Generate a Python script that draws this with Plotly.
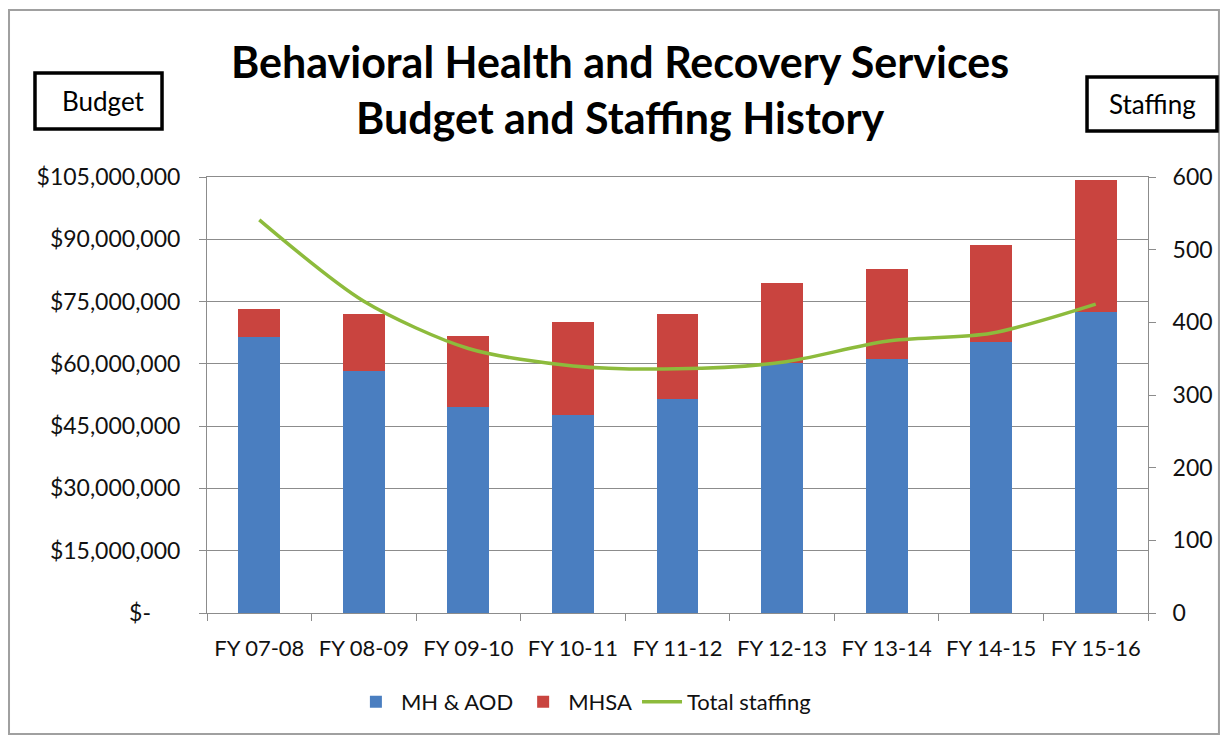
import plotly.graph_objects as go

categories = ["FY 07-08", "FY 08-09", "FY 09-10", "FY 10-11", "FY 11-12",
              "FY 12-13", "FY 13-14", "FY 14-15", "FY 15-16"]
mh_aod = [66.4e6, 58.3e6, 49.7e6, 47.8e6, 51.5e6, 60.2e6, 61.2e6, 65.2e6, 72.4e6]
totals = [73.2e6, 72.1e6, 66.6e6, 70.0e6, 71.9e6, 79.4e6, 82.8e6, 88.7e6, 104.2e6]
mhsa = [t - m for t, m in zip(totals, mh_aod)]
staffing = [541, 429, 364, 340, 336, 345, 374, 385, 425]

budget_ticks = [0, 15e6, 30e6, 45e6, 60e6, 75e6, 90e6, 105e6]
budget_labels = ["$-\u00a0\u00a0\u00a0\u00a0\u00a0", "$15,000,000", "$30,000,000", "$45,000,000",
                 "$60,000,000", "$75,000,000", "$90,000,000", "$105,000,000"]
staff_ticks = [0, 100, 200, 300, 400, 500, 600]

FONT = "Lato, 'Open Sans', sans-serif"
BLUE = "#4A7EC0"
RED = "#C9443F"
GREEN = "#8DBB3C"

fig = go.Figure()
fig.add_trace(go.Bar(x=categories, y=mh_aod, name="MH & AOD", marker_color=BLUE,
                     marker_line_width=0))
fig.add_trace(go.Bar(x=categories, y=mhsa, name="MHSA", marker_color=RED,
                     marker_line_width=0))
fig.add_trace(go.Scatter(x=categories, y=staffing, name="Total staffing", yaxis="y2",
                         mode="lines", line=dict(color=GREEN, width=3.5, shape="spline",
                                                 smoothing=0.8)))

fig.update_layout(
    width=1221, height=737,
    margin=dict(l=207, r=73, t=177, b=124),
    paper_bgcolor="white", plot_bgcolor="white",
    barmode="stack", bargap=0.6,
    font=dict(family=FONT, size=22, color="#111111"),
    showlegend=True,
    legend=dict(orientation="h", x=0.40, xanchor="center", y=-0.204, yanchor="middle",
                font=dict(size=22), itemwidth=40, traceorder="normal"),
    xaxis=dict(type="category", showline=True, linecolor="#8c8c8c", linewidth=1,
               mirror=True, ticks="outside", tickson="boundaries", ticklen=7,
               tickcolor="#8c8c8c", showgrid=False, tickfont=dict(size=22),
               ticklabelstandoff=16, automargin=False),
    yaxis=dict(range=[0, 105e6], tickvals=budget_ticks, ticktext=budget_labels,
               showline=True, linecolor="#8c8c8c", linewidth=1, ticks="outside",
               ticklen=7, tickcolor="#8c8c8c", showgrid=True, gridcolor="#8c8c8c",
               gridwidth=1, zeroline=False, tickfont=dict(size=23),
               ticklabelstandoff=14, automargin=False),
    yaxis2=dict(range=[0, 600], tickvals=staff_ticks, overlaying="y", side="right",
                showline=True, linecolor="#8c8c8c", linewidth=1, ticks="outside",
                ticklen=7, tickcolor="#8c8c8c", showgrid=False, zeroline=False,
                tickfont=dict(size=23), ticklabelstandoff=12, automargin=False),
    shapes=[
        dict(type="rect", xref="paper", yref="paper", x0=-0.2104, x1=1.0754,
             y0=-0.2775, y1=1.383, line=dict(color="#a0a0a0", width=2),
             fillcolor="rgba(0,0,0,0)", layer="below"),
        dict(type="rect", xref="paper", yref="paper", x0=-0.1828, x1=-0.0478,
             y0=1.1101, y1=1.2385, line=dict(color="black", width=3.5)),
        dict(type="rect", xref="paper", yref="paper", x0=0.9352, x1=1.0733,
             y0=1.1055, y1=1.2294, line=dict(color="black", width=3.5)),
    ],
    annotations=[
        dict(text="<b>Behavioral Health and Recovery Services</b>", xref="paper",
             yref="paper", x=0.439, y=1.2638, xanchor="center", yanchor="middle",
             showarrow=False, font=dict(size=43, color="black")),
        dict(text="<b>Budget and Staffing History</b>", xref="paper",
             yref="paper", x=0.439, y=1.1376, xanchor="center", yanchor="middle",
             showarrow=False, font=dict(size=43, color="black")),
        dict(text="Budget", xref="paper", yref="paper", x=-0.1105, y=1.1743,
             xanchor="center", yanchor="middle", showarrow=False,
             font=dict(size=26, color="black")),
        dict(text="Staffing", xref="paper", yref="paper", x=1.0043, y=1.1674,
             xanchor="center", yanchor="middle", showarrow=False,
             font=dict(size=26, color="black")),
    ],
)

fig.write_html("out.html", config={"displayModeBar": False},
               post_script="document.body.style.margin='0';")
